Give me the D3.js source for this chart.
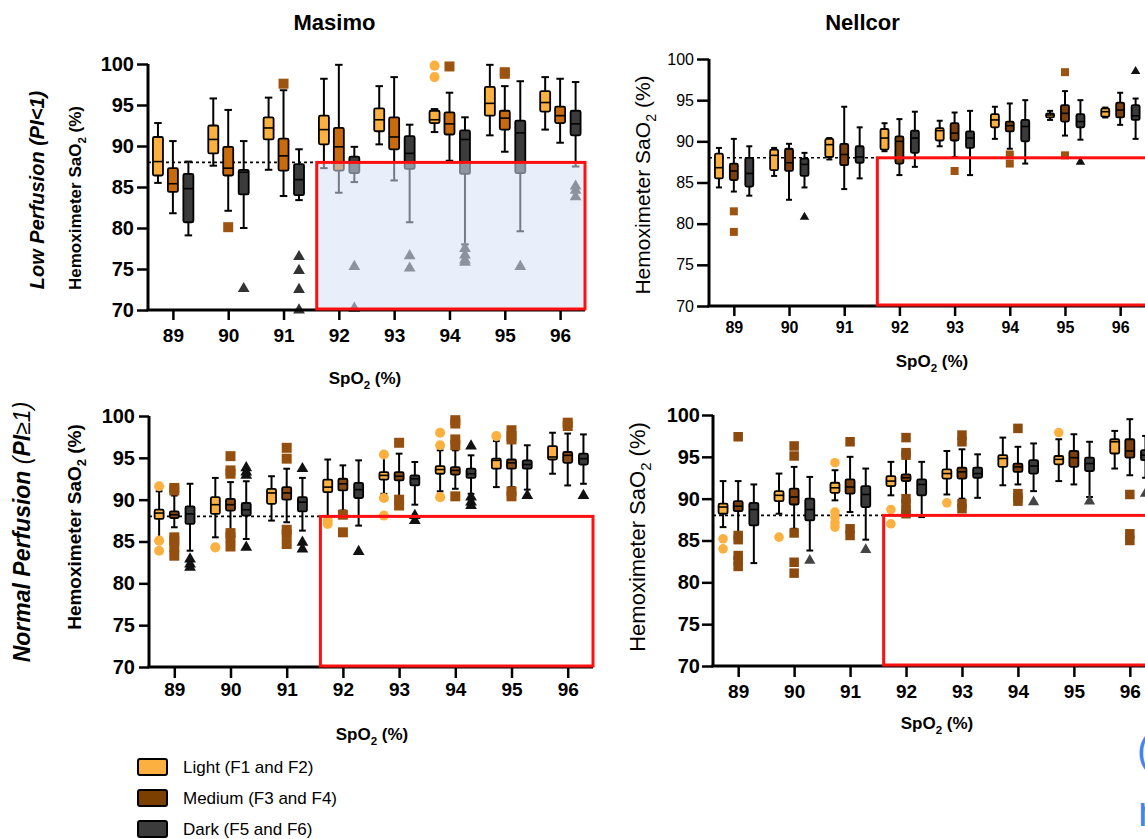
<!DOCTYPE html>
<html>
<head>
<meta charset="utf-8">
<script src="https://cdn.jsdelivr.net/npm/d3@7"></script>
<style>
body { margin: 0; background: #fff; }
text { font-family: "Liberation Sans", Arial, sans-serif; }
</style>
</head>
<body>
<div class="chart"></div>
<script>
const W = 1145, H = 839;

// categories
const spo2 = [89, 90, 91, 92, 93, 94, 95, 96];
const groupNames = ['Light (F1 and F2)', 'Medium (F3 and F4)', 'Dark (F5 and F6)'];
const yTicks = [70, 75, 80, 85, 90, 95, 100];

// each row: [whisker low, Q1, median, Q3, whisker high, [outliers]]
const masimoLowLight = [
  [85.5, 86.4, 88.1, 91.1, 92.8, []],
  [87.6, 89.1, 90.8, 92.5, 95.8, []],
  [87.1, 90.8, 92.2, 93.5, 95.9, []],
  [87.3, 90.2, 92.0, 93.7, 98.2, []],
  [90.2, 91.8, 93.2, 94.6, 97.3, []],
  [91.7, 92.8, 93.2, 94.3, 94.5, [99.8, 98.4]],
  [91.3, 93.7, 95.2, 97.2, 99.9, []],
  [92.0, 94.2, 95.3, 96.7, 98.4, []]
];
const masimoLowMedium = [
  [81.8, 84.4, 85.4, 87.3, 90.6, []],
  [82.1, 86.4, 87.3, 89.9, 94.4, [80.1]],
  [83.9, 87.0, 88.8, 90.9, 96.8, [97.6]],
  [84.3, 87.0, 89.9, 92.2, 99.9, []],
  [85.8, 89.6, 91.1, 93.5, 98.4, []],
  [88.2, 91.4, 92.7, 94.1, 96.5, [99.7]],
  [89.3, 92.0, 93.4, 94.3, 97.3, [98.8, 99.0]],
  [90.4, 92.8, 93.7, 94.8, 98.2, []]
];
const masimoLowDark = [
  [79.1, 80.7, 84.8, 86.6, 88.1, []],
  [80.0, 84.1, 86.8, 87.1, 90.6, [72.6]],
  [83.4, 84.0, 85.9, 87.8, 89.6, [76.5, 74.8, 72.5, 70.0]],
  [85.6, 86.7, 87.9, 88.7, 89.9, [75.3, 70.2]],
  [80.7, 87.2, 89.1, 91.2, 92.6, [76.6, 75.1]],
  [78.0, 86.6, 90.8, 91.9, 93.5, [77.5, 76.7, 76.1, 75.8]],
  [79.6, 86.7, 91.6, 93.1, 97.9, [75.3]],
  [87.5, 91.3, 92.7, 94.3, 97.8, [85.1, 84.6, 83.8]]
];

const nellcorLowLight = [
  [84.4, 85.5, 86.8, 88.5, 89.2, []],
  [85.8, 86.5, 88.3, 89.0, 89.2, []],
  [87.8, 88.1, 89.6, 90.3, 90.4, []],
  [88.8, 89.0, 90.4, 91.5, 92.2, []],
  [89.4, 90.1, 91.3, 91.6, 92.5, []],
  [90.3, 91.7, 92.6, 93.3, 94.2, []],
  [92.6, 92.9, 93.2, 93.4, 93.7, []],
  [92.9, 93.0, 93.6, 94.0, 94.1, []]
];
const nellcorLowMedium = [
  [83.9, 85.3, 86.4, 87.3, 90.3, [81.5, 79.0]],
  [82.9, 86.4, 87.4, 89.1, 89.7, []],
  [84.2, 87.1, 88.4, 89.7, 94.2, []],
  [85.9, 87.3, 90.0, 90.6, 92.7, []],
  [88.1, 90.1, 91.0, 92.2, 93.5, [86.4]],
  [89.1, 91.2, 91.9, 92.4, 94.6, [88.4, 87.3]],
  [90.7, 92.4, 93.4, 94.4, 96.1, [98.4, 88.3]],
  [92.0, 92.9, 93.8, 94.7, 95.9, []]
];
const nellcorLowDark = [
  [83.4, 84.5, 86.1, 88.0, 89.4, []],
  [84.4, 85.8, 87.2, 87.9, 88.6, [80.8]],
  [85.5, 87.4, 88.1, 89.4, 91.7, []],
  [86.9, 88.6, 90.4, 91.3, 93.6, []],
  [85.9, 89.2, 90.4, 91.2, 93.7, []],
  [87.3, 90.0, 91.8, 92.6, 95.0, []],
  [90.2, 91.7, 92.4, 93.3, 95.0, [87.5]],
  [90.3, 92.6, 93.1, 94.4, 95.2, [98.5]]
];

const masimoNormLight = [
  [85.3, 87.7, 88.4, 88.8, 91.0, [91.6, 85.1, 83.9]],
  [85.5, 88.3, 89.4, 90.3, 92.6, [84.3]],
  [87.5, 89.5, 90.8, 91.3, 92.8, []],
  [87.9, 90.9, 91.5, 92.4, 94.8, [87.5, 87.1]],
  [90.7, 92.4, 92.9, 93.3, 95.5, [95.4, 90.2, 88.1]],
  [91.0, 93.1, 93.6, 94.0, 95.9, [98.0, 96.5, 90.3]],
  [91.5, 93.7, 94.7, 94.9, 97.0, [97.6]],
  [93.1, 94.8, 95.1, 96.4, 98.0, []]
];
const masimoNormMedium = [
  [86.7, 87.8, 88.2, 88.6, 90.5, [91.4, 91.1, 85.5, 85.1, 84.3, 83.3]],
  [86.4, 88.7, 89.4, 90.1, 92.1, [95.2, 93.5, 93.1, 86.0, 85.5, 84.4]],
  [87.3, 90.0, 90.8, 91.5, 93.7, [96.2, 94.9, 86.4, 85.9, 84.7]],
  [88.7, 91.1, 91.9, 92.5, 94.1, [88.2, 86.1]],
  [90.3, 92.3, 92.8, 93.3, 95.5, [96.8, 90.0, 89.3]],
  [91.3, 93.0, 93.5, 93.9, 95.9, [99.5, 99.1, 97.2, 96.5, 90.4]],
  [91.5, 93.7, 94.4, 94.8, 96.9, [98.3, 97.6, 97.2, 91.0, 90.4]],
  [91.7, 94.4, 95.3, 95.7, 97.9, [99.2, 98.8]]
];
const masimoNormDark = [
  [83.9, 87.1, 88.3, 89.2, 91.9, [82.9, 82.3, 81.9]],
  [85.3, 88.1, 88.8, 89.6, 92.2, [93.8, 93.3, 92.9, 84.3]],
  [86.3, 88.6, 89.7, 90.3, 92.6, [93.7, 84.9, 84.1]],
  [86.9, 90.2, 91.2, 92.0, 94.7, [83.8]],
  [89.4, 91.7, 92.5, 92.9, 94.5, [88.1, 87.5]],
  [90.7, 92.6, 93.1, 93.7, 95.3, [96.4, 90.3, 89.7, 89.3]],
  [91.2, 93.7, 94.2, 94.7, 96.5, [90.5]],
  [91.9, 94.2, 94.9, 95.5, 97.8, [90.5]]
];

const nellcorNormLight = [
  [86.6, 88.2, 89.0, 89.4, 92.1, [85.2, 84.0]],
  [88.2, 89.7, 90.4, 90.9, 93.0, [85.4]],
  [89.8, 90.7, 91.3, 91.9, 93.4, [94.3, 88.4, 87.8, 87.1, 86.6]],
  [90.4, 91.5, 92.1, 92.7, 94.4, [88.7, 87.0]],
  [90.5, 92.4, 93.0, 93.5, 95.7, [89.5]],
  [91.6, 93.8, 94.8, 95.2, 97.3, []],
  [92.1, 94.1, 94.7, 95.1, 97.1, [97.9]],
  [93.6, 95.4, 96.8, 97.1, 98.1, []]
];
const nellcorNormMedium = [
  [86.0, 88.5, 89.1, 89.7, 92.1, [97.4, 85.6, 85.1, 83.2, 82.6, 81.9]],
  [86.4, 89.3, 90.2, 91.2, 93.8, [96.3, 95.1, 85.9, 82.4, 81.1]],
  [88.4, 90.6, 91.4, 92.3, 95.0, [96.8, 86.4, 85.6]],
  [90.4, 92.1, 92.5, 92.9, 95.7, [97.3, 95.5, 95.2, 90.0, 89.4, 88.6, 88.2]],
  [90.0, 92.4, 93.2, 93.7, 95.9, [97.6, 96.8, 89.4, 88.8]],
  [91.7, 93.2, 93.8, 94.2, 96.2, [98.4, 90.6, 90.1, 89.7]],
  [91.7, 93.8, 94.9, 95.7, 97.7, []],
  [92.8, 94.9, 95.7, 97.1, 99.5, [90.5, 85.8, 85.0]]
];
const nellcorNormDark = [
  [82.3, 86.8, 88.7, 89.5, 91.7, []],
  [83.8, 87.4, 88.7, 90.0, 92.6, [82.6]],
  [85.1, 89.0, 90.5, 91.5, 93.6, [83.9]],
  [87.8, 90.4, 91.7, 92.3, 94.4, []],
  [90.1, 92.5, 93.0, 93.7, 95.3, []],
  [90.9, 93.0, 93.9, 94.6, 96.6, [89.6]],
  [90.2, 93.3, 94.2, 94.9, 96.8, [89.7]],
  [92.5, 94.6, 95.2, 95.8, 97.5, [90.6]]
];

// shaded / flagged region and reference line
const zoneX = [91.6, 96.45];
const zoneY = [70, 88];
const refLine = 88;

// colours
const lightFill = '#fbb040';
const darkFill = '#3b3b3b';
const groupOffset = [-0.27, 0, 0.28];

const panels = [
  { title: 'Masimo', boxes: [masimoLowLight, masimoLowMedium, masimoLowDark],
    x0: 148, x1: 585, yTop: 64, yBot: 310, bw: 10, mid: '#c96a0c', outMed: '#9c5410', outDark: '#333',
    yFont: 20, yWeight: 'bold', yTick: 11, yPad: 3, xFont: 19, xTick: 10, xPad: 9,
    shade: true, zoneEnd: 96.45, mark: 1 },
  { title: 'Nellcor', boxes: [nellcorLowLight, nellcorLowMedium, nellcorLowDark],
    x0: 709, x1: 1145, yTop: 59, yBot: 306, bw: 8, mid: '#7d3f0c', outMed: '#9c5410', outDark: '#111',
    yFont: 16, yWeight: 'normal', yTick: 12, yPad: 3, xFont: 16, xTick: 10, xPad: 6,
    shade: false, zoneEnd: 97.5, mark: 0.8 },
  { title: null, boxes: [masimoNormLight, masimoNormMedium, masimoNormDark],
    x0: 149, x1: 593, yTop: 416, yBot: 667, bw: 9, mid: '#8a4a14', outMed: '#955010', outDark: '#111',
    yFont: 20, yWeight: 'bold', yTick: 10, yPad: 4, xFont: 19, xTick: 11, xPad: 5,
    shade: false, zoneEnd: 96.45, mark: 1 },
  { title: null, boxes: [nellcorNormLight, nellcorNormMedium, nellcorNormDark],
    x0: 713, x1: 1155, yTop: 415, yBot: 666, bw: 9, mid: '#7d3f0c', outMed: '#8c4a0e', outDark: '#444',
    yFont: 20, yWeight: 'bold', yTick: 11, yPad: 2, xFont: 19, xTick: 11, xPad: 8,
    shade: false, zoneEnd: 97.5, mark: 0.95 }
];

const svg = d3.select('.chart').append('svg')
  .attr('width', W)
  .attr('height', H);

function subText(sel, pre, sub, post, size) {
  sel.append('tspan').text(pre);
  sel.append('tspan').text(sub).attr('font-size', size * 0.68).attr('dy', size * 0.28);
  sel.append('tspan').text(post).attr('dy', -size * 0.28);
}

panels.forEach(function(p) {
  const x = d3.scaleLinear().domain([88.55, 88.55 + (p.x1 - p.x0) / ((p.x1 - p.x0) / 7.9)]).range([p.x0, p.x1]);
  x.domain([88.55, 96.45]);
  if (p.x1 > 1145) x.range([p.x0, p.x0 + (p.x1 - p.x0)]);
  const y = d3.scaleLinear().domain([70, 100]).range([p.yBot, p.yTop]);
  const g = svg.append('g');

  // reference line at 88
  g.append('line')
    .attr('x1', p.x0).attr('x2', x(zoneX[0]))
    .attr('y1', y(refLine)).attr('y2', y(refLine))
    .attr('stroke', '#000').attr('stroke-width', 1.6)
    .attr('stroke-dasharray', '3,3');

  p.boxes.forEach(function(series, gi) {
    const fill = gi === 0 ? lightFill : gi === 1 ? p.mid : darkFill;
    series.forEach(function(d, i) {
      const cx = x(spo2[i] + groupOffset[gi]);
      const bg = g.append('g');
      const cap = p.bw * 0.75;
      bg.append('line').attr('x1', cx).attr('x2', cx).attr('y1', y(d[0])).attr('y2', y(d[4]))
        .attr('stroke', '#000').attr('stroke-width', 2);
      [d[0], d[4]].forEach(function(v) {
        bg.append('line').attr('x1', cx - cap / 2).attr('x2', cx + cap / 2)
          .attr('y1', y(v)).attr('y2', y(v))
          .attr('stroke', '#000').attr('stroke-width', 2);
      });
      bg.append('rect')
        .attr('x', cx - p.bw / 2).attr('width', p.bw)
        .attr('y', y(d[3])).attr('height', Math.max(2, y(d[1]) - y(d[3])))
        .attr('rx', 1.5)
        .attr('fill', fill).attr('stroke', '#000').attr('stroke-width', 1.8);
      bg.append('line').attr('x1', cx - p.bw / 2).attr('x2', cx + p.bw / 2)
        .attr('y1', y(d[2])).attr('y2', y(d[2]))
        .attr('stroke', '#000').attr('stroke-width', 1.6);

      // outliers
      const shape = gi === 0 ? d3.symbolCircle : gi === 1 ? d3.symbolSquare : d3.symbolTriangle;
      const size = (gi === 0 ? 80 : gi === 1 ? 100 : 60) * p.mark * p.mark;
      const color = gi === 0 ? lightFill : gi === 1 ? p.outMed : p.outDark;
      bg.selectAll('path.out')
        .data(d[5])
        .enter()
        .append('path')
        .attr('class', 'out')
        .attr('d', d3.symbol().type(shape).size(size))
        .attr('transform', v => `translate(${cx}, ${y(v)})`)
        .attr('fill', color);
    });
  });

  // light-blue overlay
  if (p.shade) {
    g.append('rect')
      .attr('x', x(zoneX[0])).attr('width', x(zoneX[1]) - x(zoneX[0]))
      .attr('y', y(zoneY[1])).attr('height', y(zoneY[0]) - y(zoneY[1]))
      .attr('fill', 'rgb(214,225,247)').attr('fill-opacity', 0.55);
  }

  // axes
  const yAxis = d3.axisLeft(y).tickValues(yTicks).tickSize(p.yTick).tickSizeOuter(0).tickPadding(p.yPad);
  const xAxis = d3.axisBottom(x).tickValues(spo2).tickSize(p.xTick).tickSizeOuter(0).tickPadding(p.xPad).tickFormat(d3.format('d'));

  const ya = g.append('g').attr('transform', `translate(${p.x0},0)`).call(yAxis);
  ya.select('.domain').attr('stroke-width', 3).attr('d', `M0,${p.yTop}V${p.yBot}`);
  ya.selectAll('.tick line').attr('stroke-width', 2.5);
  ya.selectAll('.tick text').attr('font-size', p.yFont).attr('font-weight', p.yWeight)
    .attr('font-family', '"Liberation Sans", Arial, sans-serif').attr('fill', '#000');

  const xa = g.append('g').attr('transform', `translate(0,${p.yBot})`).call(xAxis);
  xa.select('.domain').attr('stroke-width', 3).attr('d', `M${p.x0 - 1.5},0H${p.x1}`);
  xa.selectAll('.tick line').attr('stroke-width', 2.5);
  xa.selectAll('.tick text').attr('font-size', p.xFont).attr('font-weight', 'bold')
    .attr('font-family', '"Liberation Sans", Arial, sans-serif').attr('fill', '#000');

  // red zone outline
  g.append('rect')
    .attr('x', x(zoneX[0])).attr('width', x(p.zoneEnd) - x(zoneX[0]))
    .attr('y', y(zoneY[1])).attr('height', y(zoneY[0]) - y(zoneY[1]) - 1)
    .attr('fill', 'none').attr('stroke', '#ff1010').attr('stroke-width', 3);

  if (p.title) {
    g.append('text')
      .attr('x', (p.x0 + Math.min(p.x1, 1016)) / 2 + (p.x0 < 300 ? -32 : -0))
      .attr('y', 30)
      .attr('text-anchor', 'middle')
      .attr('font-size', 22).attr('font-weight', 'bold')
      .text(p.title);
  }
});

// x axis titles
[[365, 384, 17], [932, 367, 17], [372, 740, 17], [937, 729, 17]].forEach(function(t) {
  const tx = svg.append('text').attr('x', t[0]).attr('y', t[1])
    .attr('text-anchor', 'middle').attr('font-size', t[2]).attr('font-weight', 'bold');
  subText(tx, 'SpO', '2', ' (%)', t[2]);
});

// y axis titles
[[81, 198, 17, 'bold'], [650, 185, 21, 'normal'], [81, 527, 19, 'bold'], [645, 537, 22, 'normal']].forEach(function(t) {
  const tx = svg.append('text')
    .attr('transform', `translate(${t[0]},${t[1]}) rotate(-90)`)
    .attr('text-anchor', 'middle').attr('font-size', t[2]).attr('font-weight', t[3]);
  subText(tx, 'Hemoximeter SaO', '2', ' (%)', t[2]);
});

// row labels
const low = svg.append('text')
  .attr('transform', 'translate(44,190) rotate(-90)')
  .attr('text-anchor', 'middle').attr('font-size', 20)
  .attr('font-weight', 'bold').attr('font-style', 'italic');
low.append('tspan').text('Low');
low.append('tspan').text(' Perfusion (PI<1)');

const norm = svg.append('text')
  .attr('transform', 'translate(30,532) rotate(-90)')
  .attr('text-anchor', 'middle').attr('font-size', 23).attr('font-style', 'italic');
norm.append('tspan').text('Normal Perfusion ').attr('font-weight', 'bold');
norm.append('tspan').text('(').attr('font-weight', 'normal');
norm.append('tspan').text('PI').attr('font-weight', 'bold');
norm.append('tspan').text('≥1)').attr('font-weight', 'normal');

// legend
const legend = svg.append('g');
const legendFill = [lightFill, '#7b3f00', darkFill];
groupNames.forEach(function(name, i) {
  const ly = 767 + i * 31;
  legend.append('rect')
    .attr('x', 138).attr('y', ly - 8).attr('width', 29).attr('height', 16).attr('rx', 2)
    .attr('fill', legendFill[i]).attr('stroke', '#000').attr('stroke-width', 2);
  legend.append('text')
    .attr('x', 183).attr('y', ly + 6)
    .attr('font-size', 17)
    .text(name);
});

// cut-off text at right edge
svg.append('text').attr('x', 1137).attr('y', 764).attr('font-size', 40).attr('fill', '#3f87ef').text('(');
svg.append('text').attr('x', 1138).attr('y', 826).attr('font-size', 42).attr('fill', '#3f87ef').text('n');
</script>
</body>
</html>
